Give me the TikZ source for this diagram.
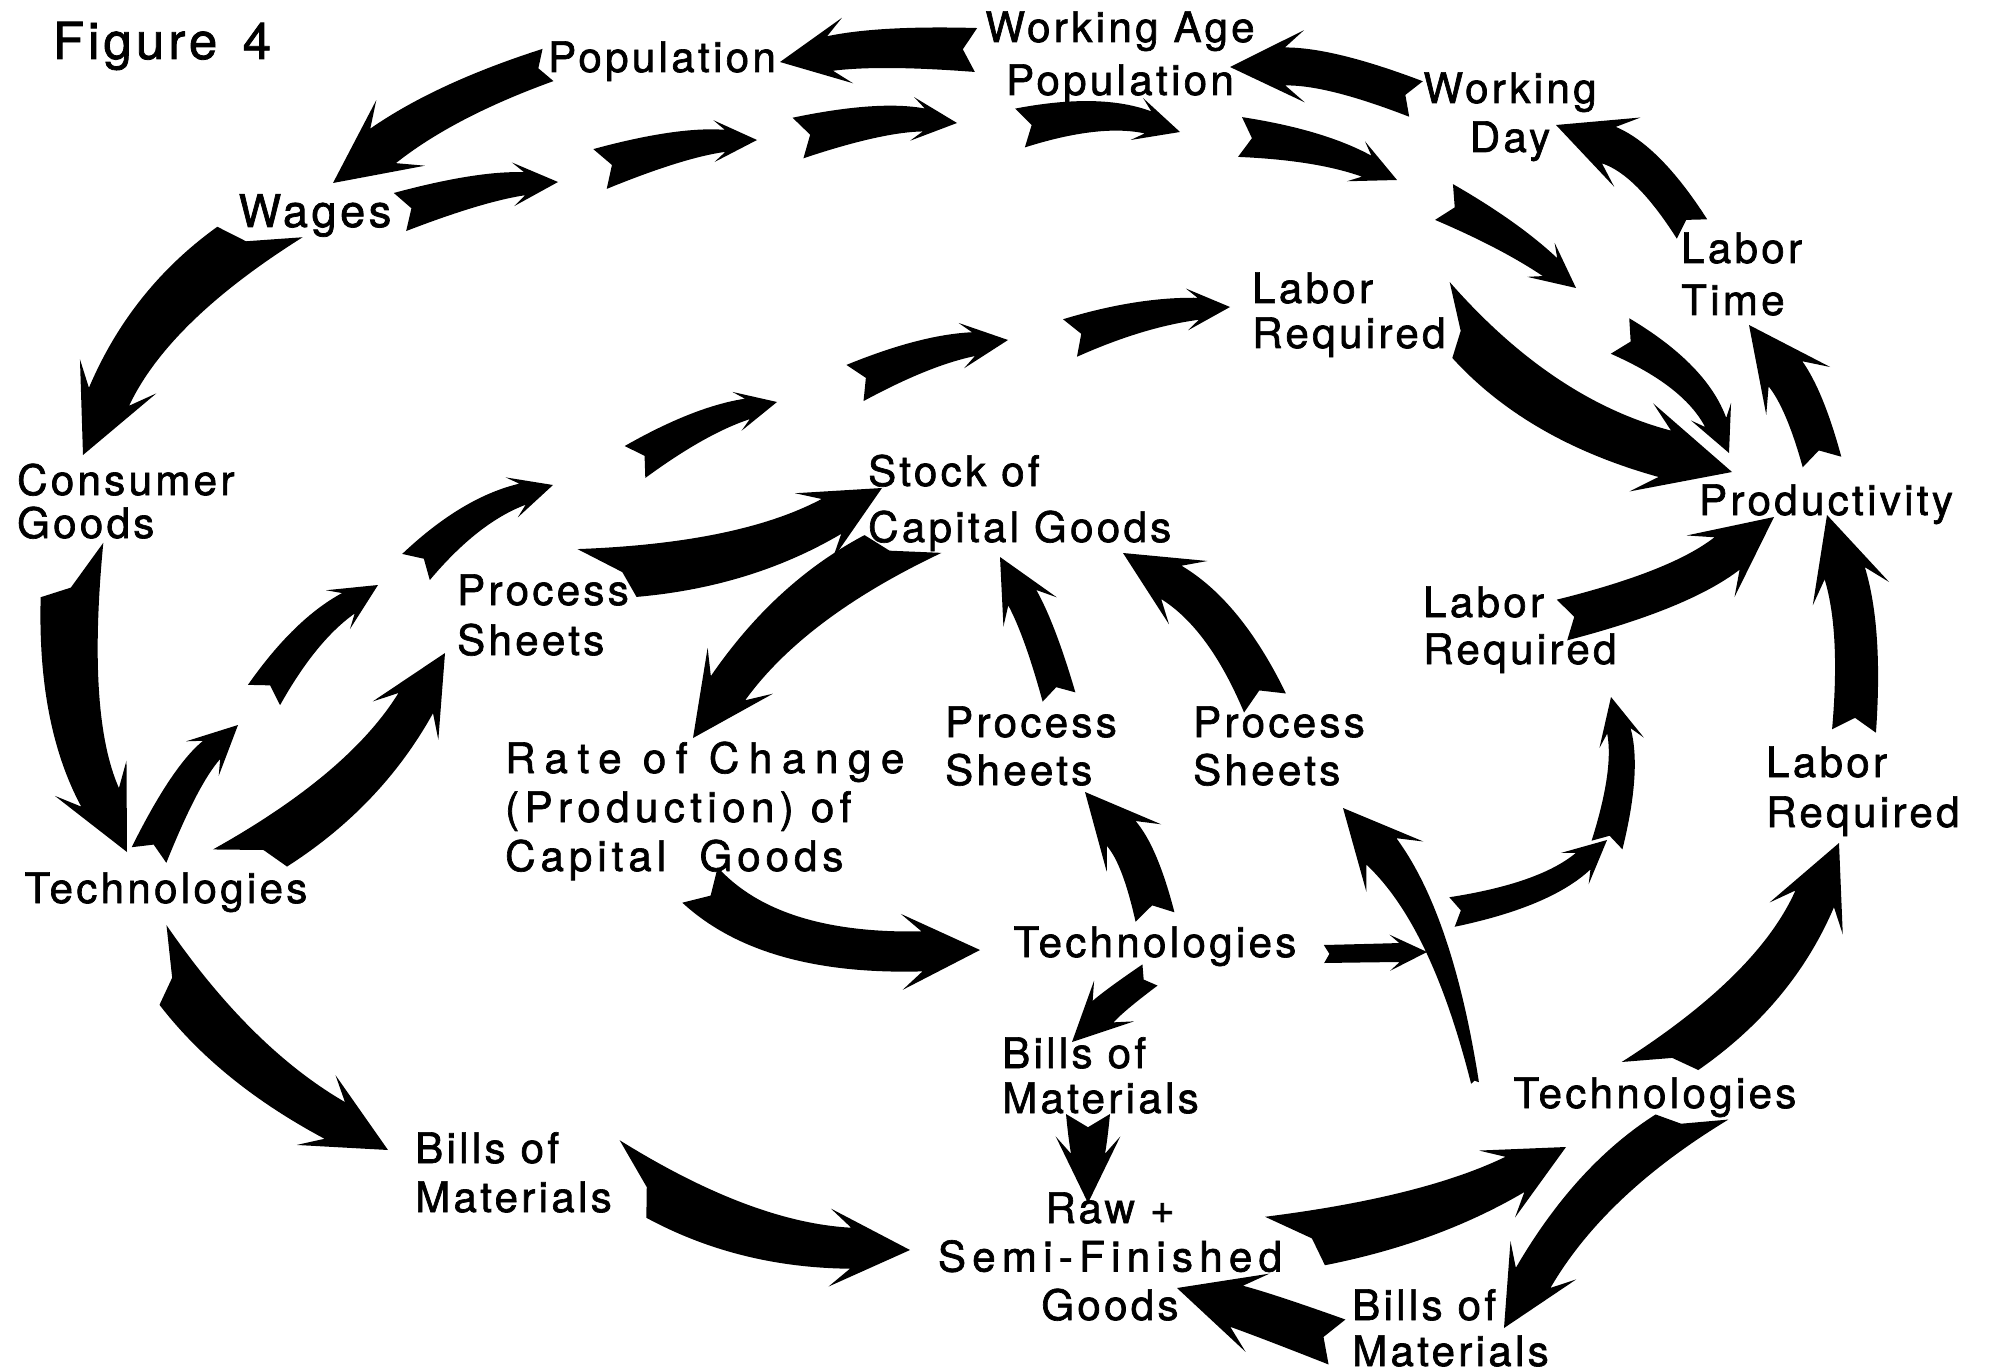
\documentclass[tikz,border=0pt]{standalone}
\usepackage{fontspec}
\setmainfont{TeX Gyre Heros}[LetterSpace=8,FakeBold=1.6]
\def\swcutangle{}
\newcommand\swoosh[8]{{%
\pgfmathsetmacro\swUx{(#5)-(#3)}%
\pgfmathsetmacro\swUy{(#6)-(#4)}%
\pgfmathsetmacro\swUl{max(veclen(\swUx,\swUy),0.01)}%
\pgfmathsetmacro\swUx{(\swUx)/(\swUl)}%
\pgfmathsetmacro\swUy{(\swUy)/(\swUl)}%
\pgfmathsetmacro\swSx{(#3)-(#1)}%
\pgfmathsetmacro\swSy{(#4)-(#2)}%
\pgfmathsetmacro\swSl{max(veclen(\swSx,\swSy),0.01)}%
\pgfmathsetmacro\swSx{(\swSx)/(\swSl)}%
\pgfmathsetmacro\swSy{(\swSy)/(\swSl)}%
\pgfmathsetmacro\swHl{1.45*(#7)}%
\pgfmathsetmacro\swHw{0.95*(#7)}%
\pgfmathsetmacro\swNx{(#5)-(\swHl)*(\swUx)}%
\pgfmathsetmacro\swNy{(#6)-(\swHl)*(\swUy)}%
\pgfmathsetmacro\swMx{-(\swSy)-(\swUy)}%
\pgfmathsetmacro\swMy{(\swSx)+(\swUx)}%
\pgfmathsetmacro\swMl{max(veclen(\swMx,\swMy),0.01)}%
\pgfmathsetmacro\swMx{(\swMx)/(\swMl)}%
\pgfmathsetmacro\swMy{(\swMy)/(\swMl)}%
\ifx\swcutangle\empty
  \pgfmathsetmacro\swAx{(#1)-(\swSy)*(#8)/2}%
  \pgfmathsetmacro\swAy{(#2)+(\swSx)*(#8)/2}%
  \pgfmathsetmacro\swBx{(#1)+(\swSy)*(#8)/2}%
  \pgfmathsetmacro\swBy{(#2)-(\swSx)*(#8)/2}%
  \pgfmathsetmacro\swWe{#8}%
\else
  \pgfmathsetmacro\swDx{cos(\swcutangle)}%
  \pgfmathsetmacro\swDy{sin(\swcutangle)}%
  \pgfmathsetmacro\swDot{-(\swDx)*(\swSy)+(\swDy)*(\swSx)}%
  \pgfmathsetmacro\swSg{\swDot<0 ? -1 : 1}%
  \pgfmathsetmacro\swAx{(#1)+(\swSg)*(\swDx)*(#8)/2}%
  \pgfmathsetmacro\swAy{(#2)+(\swSg)*(\swDy)*(#8)/2}%
  \pgfmathsetmacro\swBx{(#1)-(\swSg)*(\swDx)*(#8)/2}%
  \pgfmathsetmacro\swBy{(#2)-(\swSg)*(\swDy)*(#8)/2}%
  \pgfmathsetmacro\swWe{abs(\swDot)*(#8)}%
\fi
\pgfmathsetmacro\swQ{((#7)+(\swWe))/4}%
\pgfmathsetmacro\swCpx{(#3)+(\swMx)*(\swQ)}%
\pgfmathsetmacro\swCpy{(#4)+(\swMy)*(\swQ)}%
\pgfmathsetmacro\swCmx{(#3)-(\swMx)*(\swQ)}%
\pgfmathsetmacro\swCmy{(#4)-(\swMy)*(\swQ)}%
\pgfmathsetmacro\swNpx{(\swNx)-(\swUy)*(#7)/2}%
\pgfmathsetmacro\swNpy{(\swNy)+(\swUx)*(#7)/2}%
\pgfmathsetmacro\swNmx{(\swNx)+(\swUy)*(#7)/2}%
\pgfmathsetmacro\swNmy{(\swNy)-(\swUx)*(#7)/2}%
\pgfmathsetmacro\swPx{(\swNx)-0.35*(\swHl)*(\swUx)-(\swUy)*(\swHw)}%
\pgfmathsetmacro\swPy{(\swNy)-0.35*(\swHl)*(\swUy)+(\swUx)*(\swHw)}%
\pgfmathsetmacro\swRx{(\swNx)-0.35*(\swHl)*(\swUx)+(\swUy)*(\swHw)}%
\pgfmathsetmacro\swRy{(\swNy)-0.35*(\swHl)*(\swUy)-(\swUx)*(\swHw)}%
\pgfmathsetmacro\swTx{(#1)+0.3*(\swWe)*(\swSx)}%
\pgfmathsetmacro\swTy{(#2)+0.3*(\swWe)*(\swSy)}%
\pgfmathsetmacro\swAax{(\swAx)+2/3*((\swCpx)-(\swAx))}%
\pgfmathsetmacro\swAay{(\swAy)+2/3*((\swCpy)-(\swAy))}%
\pgfmathsetmacro\swNax{(\swNpx)+2/3*((\swCpx)-(\swNpx))}%
\pgfmathsetmacro\swNay{(\swNpy)+2/3*((\swCpy)-(\swNpy))}%
\pgfmathsetmacro\swBbx{(\swBx)+2/3*((\swCmx)-(\swBx))}%
\pgfmathsetmacro\swBby{(\swBy)+2/3*((\swCmy)-(\swBy))}%
\pgfmathsetmacro\swNbx{(\swNmx)+2/3*((\swCmx)-(\swNmx))}%
\pgfmathsetmacro\swNby{(\swNmy)+2/3*((\swCmy)-(\swNmy))}%
\fill[swooshfill] (\swAx,\swAy) .. controls (\swAax,\swAay) and (\swNax,\swNay) .. (\swNpx,\swNpy) -- (\swPx,\swPy) -- (#5,#6) -- (\swRx,\swRy) -- (\swNmx,\swNmy) .. controls (\swNbx,\swNby) and (\swBbx,\swBby) .. (\swBx,\swBy) -- (\swTx,\swTy) -- cycle;%
}}
\newcommand\cutswoosh[9]{{\def\swcutangle{#1}\swoosh{#2}{#3}{#4}{#5}{#6}{#7}{#8}{#9}}}
\begin{document}
\begin{tikzpicture}[x=1pt,y=-1pt,
  swooshfill/.style={fill=black},
  lbl/.style={inner sep=0pt, align=left, font=\fontsize{42}{46}\selectfont}]
\fill[white] (0,0) rectangle (1989,1372);
\useasboundingbox (0,0) rectangle (1989,1372);

% ---- labels (multi-line nodes are placed by the baseline of their last line) ----
\node[lbl,anchor=base] (fig) at (162,59) {\fontsize{51}{56}\selectfont Figure\enspace 4};
\node[lbl,anchor=base] (pop) at (662,72) {Population};
\node[lbl,anchor=base,align=center,font=\fontsize{42}{53}\selectfont] (wap) at (1120,95) {Working Age\\Population};
\node[lbl,anchor=base,align=center,font=\fontsize{42}{49}\selectfont] (wday) at (1510,152) {Working\\Day};
\node[lbl,anchor=base,font=\fontsize{45}{50}\selectfont] (wages) at (315,227) {Wages};
\node[lbl,anchor=base west,font=\fontsize{42}{52}\selectfont] (ltime) at (1681,315) {Labor\\Time};
\node[lbl,anchor=base west,font=\fontsize{42}{45}\selectfont] (lreqA) at (1252,348) {Labor\\Required};
\node[lbl,anchor=base] (prod) at (1826,515) {Productivity};
\node[lbl,anchor=base west,font=\fontsize{42}{43}\selectfont] (cons) at (17,538) {Consumer\\Goods};
\node[lbl,anchor=base west,font=\fontsize{42}{56}\selectfont] (stock) at (868,542) {Stock of\\Capital Goods};
\node[lbl,anchor=base west,font=\fontsize{42}{50}\selectfont] (psA) at (457,655) {Process\\Sheets};
\node[lbl,anchor=base west,font=\fontsize{42}{49}\selectfont] (rate) at (505,871) {{\addfontfeature{LetterSpace=23}Rate of Change}\\{\addfontfeature{LetterSpace=13}(Production) of}\\{\addfontfeature{LetterSpace=12}Capital\ \ Goods}};
\node[lbl,anchor=base west,font=\fontsize{42}{48}\selectfont] (psB) at (945,785) {Process\\Sheets};
\node[lbl,anchor=base west,font=\fontsize{42}{48}\selectfont] (psC) at (1193,785) {Process\\Sheets};
\node[lbl,anchor=base west,font=\fontsize{42}{47}\selectfont] (lreqB) at (1423,664) {Labor\\Required};
\node[lbl,anchor=base west,font=\fontsize{42}{50}\selectfont] (lreqC) at (1766,827) {Labor\\Required};
\node[lbl,anchor=base] (techA) at (166,903) {Technologies};
\node[lbl,anchor=base] (techB) at (1155,957) {Technologies};
\node[lbl,anchor=base west,font=\fontsize{42}{45}\selectfont] (billsB) at (1002,1113) {Bills of\\Materials};
\node[lbl,anchor=base,align=center,font=\fontsize{42}{48.5}\selectfont] (raw) at (1110,1320) {Raw +\\{\addfontfeature{LetterSpace=15}Semi-Finished}\\Goods};
\node[lbl,anchor=base west,font=\fontsize{42}{49}\selectfont] (billsA) at (415,1212) {Bills of\\Materials};
\node[lbl,anchor=base] (techC) at (1655,1108) {Technologies};
\node[lbl,anchor=base west,font=\fontsize{42}{46}\selectfont] (billsC) at (1352,1366) {Bills of\\Materials};

% ---- outer ring ----
\swoosh{976}{50}{880}{45}{780}{62}{35}{44}
\swoosh{1416}{99}{1330}{66}{1230}{67}{38}{38}
\swoosh{1692}{229}{1648}{160}{1556}{125}{39}{36}
\swoosh{548}{65}{445}{100}{333}{183}{43}{34}
\cutswoosh{7}{260}{232}{150}{305}{83}{455}{44}{86}
\cutswoosh{139}{72}{570}{62}{720}{127}{852}{42}{83}
\cutswoosh{95}{163}{965}{235}{1065}{388}{1150}{42}{80}
\cutswoosh{71}{633}{1179}{745}{1245}{910}{1250}{41}{82}
\swoosh{1337}{1342}{1265}{1315}{1177}{1288}{43}{48}
\cutswoosh{39}{1295}{1241}{1430}{1220}{1566}{1147}{40}{77}
\cutswoosh{6}{1660}{1066}{1775}{990}{1839}{843}{42}{77}
\swoosh{1854}{731}{1862}{630}{1827}{515}{42}{44}
\swoosh{1822}{462}{1805}{400}{1749}{325}{42}{40}
\cutswoosh{88}{1451}{320}{1540}{420}{1732}{472}{48}{76}

% ---- top chain ----
\swoosh{400}{212}{480}{186}{558}{182}{23}{40}
\swoosh{600}{169}{680}{142}{757}{140}{22}{42}
\swoosh{798}{138}{880}{116}{957}{123}{23}{42}
\swoosh{1020}{128}{1100}{108}{1180}{132}{23}{40}
\swoosh{1240}{137}{1320}{145}{1397}{180}{23}{40}
\swoosh{1444}{202}{1510}{235}{1576}{288}{23}{40}
\swoosh{1620}{336}{1695}{375}{1729}{453}{23}{40}

% ---- inner chain ----
\swoosh{149}{855}{185}{775}{238}{725}{25}{38}
\swoosh{264}{695}{305}{630}{378}{585}{24}{38}
\swoosh{416}{567}{470}{510}{553}{485}{22}{38}
\swoosh{635}{462}{700}{420}{777}{402}{21}{38}
\swoosh{855}{383}{925}{350}{1008}{340}{24}{40}
\swoosh{1070}{338}{1140}{312}{1230}{307}{22}{40}

% ---- centre ----
\cutswoosh{13}{250}{858}{365}{790}{445}{653}{40}{76}
\cutswoosh{39}{607}{573}{745}{565}{882}{488}{40}{76}
\cutswoosh{13}{903}{544}{790}{600}{693}{738}{42}{79}
\swoosh{700}{885}{770}{955}{980}{950}{40}{50}
\swoosh{1155}{917}{1140}{855}{1085}{792}{38}{40}
\swoosh{1059}{697}{1040}{630}{1000}{557}{32}{34}
\swoosh{1265}{703}{1225}{615}{1123}{553}{39}{46}
\swoosh{1150}{975}{1115}{1000}{1072}{1042}{30}{26}
\swoosh{1088}{1114}{1088}{1140}{1088}{1203}{34}{44}
\swoosh{1324}{954}{1375}{953}{1427}{952}{19}{18}
\swoosh{1452}{912}{1545}{895}{1607}{840}{22}{30}
\swoosh{1607}{845}{1628}{770}{1611}{697}{24}{32}
\swoosh{1475}{1083}{1442}{920}{1343}{808}{40}{8}
\swoosh{1562}{620}{1680}{590}{1774}{517}{41}{42}
\cutswoosh{4}{1692}{1117}{1590}{1180}{1504}{1328}{40}{73}
\end{tikzpicture}
\end{document}
